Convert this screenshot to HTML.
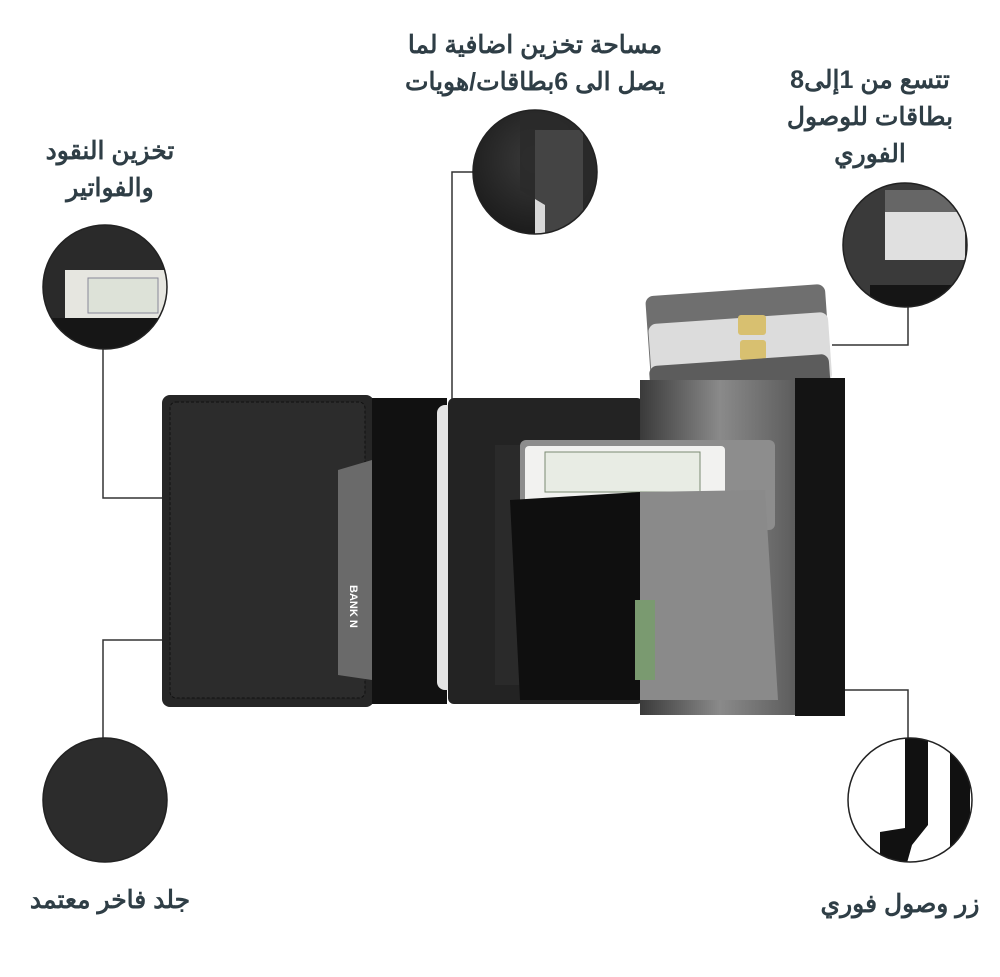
<!DOCTYPE html>
<html><head><meta charset="utf-8"><style>
body{margin:0;background:#fff;width:1000px;height:977px;overflow:hidden;position:relative;font-family:"Liberation Sans","Noto Sans CJK SC",sans-serif}
.t{position:absolute;color:#2f3e46;font-weight:bold;font-size:25px;text-align:center;direction:rtl;line-height:37px;white-space:nowrap}
</style></head><body>
<svg width="1000" height="977" style="position:absolute;left:0;top:0">
<defs>
<radialGradient id="rg" cx="50%" cy="40%" r="60%"><stop offset="0" stop-color="#3a3a3a"/><stop offset="1" stop-color="#1c1c1c"/></radialGradient>
<linearGradient id="gg" x1="0" x2="1"><stop offset="0" stop-color="#3a3a3a"/><stop offset="0.5" stop-color="#8a8a8a"/><stop offset="1" stop-color="#5a5a5a"/></linearGradient>
<clipPath id="c1"><circle cx="535" cy="172" r="62"/></clipPath>
<clipPath id="c2"><circle cx="105" cy="287" r="62"/></clipPath>
<clipPath id="c3"><circle cx="905" cy="245" r="62"/></clipPath>
<clipPath id="c5"><circle cx="910" cy="800" r="62"/></clipPath>
</defs>
<g stroke="#333" stroke-width="1.5" fill="none">
<polyline points="477,172 452,172 452,498"/>
<polyline points="103,345 103,498 510,498"/>
<polyline points="908,305 908,345 832,345"/>
<polyline points="200,640 103,640 103,740"/>
<polyline points="840,690 908,690 908,740"/>
</g>
<rect x="648" y="290" width="180" height="90" rx="8" fill="#6f6f6f" transform="rotate(-4 738 335)"/>
<rect x="650" y="318" width="180" height="70" rx="8" fill="#dcdcdc" transform="rotate(-4 740 350)"/>
<rect x="738" y="315" width="28" height="20" rx="3" fill="#d8c070"/>
<rect x="740" y="340" width="26" height="20" rx="3" fill="#d8c070"/>
<rect x="650" y="360" width="180" height="40" rx="8" fill="#5c5c5c" transform="rotate(-4 740 380)"/>
<rect x="162" y="395" width="212" height="312" rx="8" fill="#262626"/>
<rect x="170" y="402" width="195" height="296" rx="6" fill="#2c2c2c" stroke="#111" stroke-dasharray="3 2"/>
<path d="M338,470 L372,460 L372,680 L338,675 Z" fill="#6a6a6a"/>
<text x="350" y="585" fill="#fff" font-size="11" font-weight="bold" transform="rotate(90 350 585)" font-family="Liberation Sans">BANK N</text>
<rect x="372" y="398" width="75" height="306" fill="#111"/>
<rect x="437" y="405" width="24" height="285" rx="8" fill="#e4e4e4"/>
<rect x="448" y="398" width="195" height="306" rx="6" fill="#232323"/>
<rect x="495" y="445" width="25" height="240" fill="#2a2a2a"/>
<rect x="640" y="380" width="160" height="335" fill="url(#gg)"/>
<rect x="795" y="378" width="50" height="338" fill="#141414"/>
<rect x="520" y="440" width="255" height="90" rx="6" fill="#8d8d8d"/>
<rect x="525" y="446" width="200" height="60" rx="4" fill="#f2f2f0"/>
<rect x="545" y="452" width="155" height="40" fill="#e8ece4" stroke="#7a8a72"/>
<path d="M510,500 L640,492 L640,700 L520,700 Z" fill="#0f0f0f"/>
<path d="M640,492 L765,490 L778,700 L640,700 Z" fill="#8a8a8a"/>
<rect x="635" y="600" width="20" height="80" fill="#7a9a70"/>
<circle cx="535" cy="172" r="62" fill="url(#rg)"/>
<g clip-path="url(#c1)"><rect x="535" y="130" width="48" height="110" fill="#d8d8d8"/><path d="M520,110 L520,190 L545,205 L545,240 L600,240 L600,110 Z" fill="#2a2a2a" opacity="0.85"/></g>
<circle cx="535" cy="172" r="62" fill="none" stroke="#222" stroke-width="1.5"/>
<circle cx="105" cy="287" r="62" fill="#2a2a2a"/>
<g clip-path="url(#c2)"><rect x="65" y="270" width="110" height="50" fill="#e6e6e0"/><rect x="88" y="278" width="70" height="35" fill="#dde2d8" stroke="#889"/><rect x="40" y="318" width="140" height="40" fill="#161616"/></g>
<circle cx="105" cy="287" r="62" fill="none" stroke="#222" stroke-width="1.5"/>
<circle cx="905" cy="245" r="62" fill="#3a3a3a"/>
<g clip-path="url(#c3)"><rect x="885" y="205" width="80" height="55" fill="#e0e0e0"/><rect x="885" y="190" width="80" height="22" fill="#666"/><rect x="870" y="285" width="100" height="30" fill="#151515"/></g>
<circle cx="905" cy="245" r="62" fill="none" stroke="#222" stroke-width="1.5"/>
<circle cx="105" cy="800" r="62" fill="#2c2c2c" stroke="#222" stroke-width="1.5"/>
<circle cx="910" cy="800" r="62" fill="#fff"/>
<g clip-path="url(#c5)"><path d="M905,735 L928,735 L928,825 L912,845 L905,870 L880,870 L880,832 L905,828 Z" fill="#111"/><rect x="950" y="735" width="20" height="140" fill="#111"/></g>
<circle cx="910" cy="800" r="62" fill="none" stroke="#222" stroke-width="1.5"/>
</svg>
<div class="t" style="left:380px;top:27px;width:310px">مساحة تخزين اضافية لما<br>يصل الى 6بطاقات/هويات</div>
<div class="t" style="left:760px;top:62px;width:220px">تتسع من 1إلى8<br>بطاقات للوصول<br>الفوري</div>
<div class="t" style="left:20px;top:133px;width:180px">تخزين النقود<br>والفواتير</div>
<div class="t" style="left:15px;top:882px;width:190px">جلد فاخر معتمد</div>
<div class="t" style="left:805px;top:886px;width:190px">زر وصول فوري</div>
</body></html>
